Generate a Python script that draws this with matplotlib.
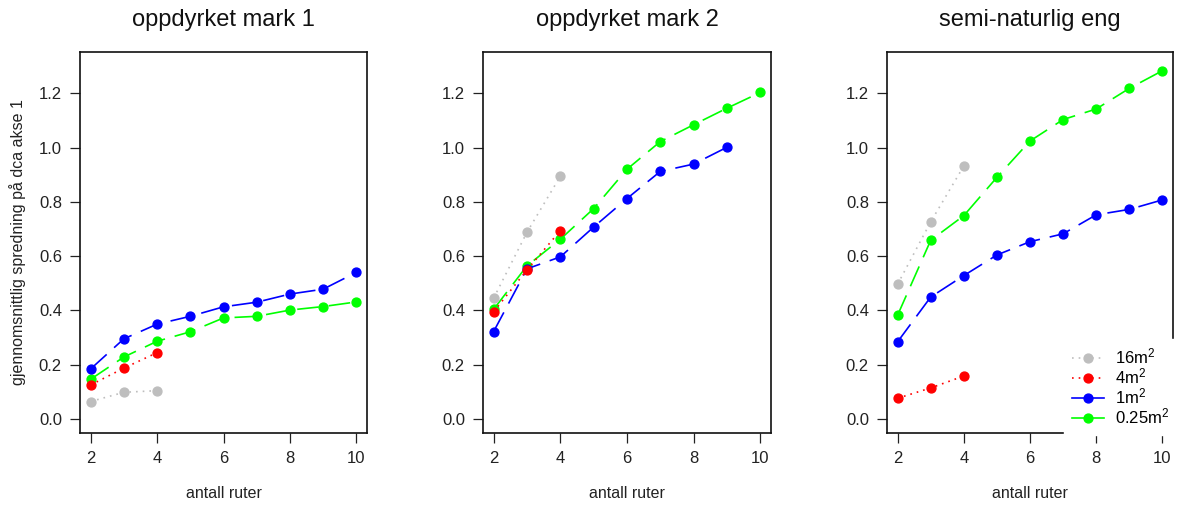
import matplotlib
matplotlib.use("Agg")
import matplotlib.pyplot as plt
from matplotlib.lines import Line2D

plt.rcParams['font.family'] = ['Liberation Sans', 'DejaVu Sans']
plt.rcParams['mathtext.default'] = 'regular'

# ---- data ----
titles = ['oppdyrket mark 1', 'oppdyrket mark 2', 'semi-naturlig eng']

x_short = [2, 3, 4]
x_long = [2, 3, 4, 5, 6, 7, 8, 9, 10]
x_nine = [2, 3, 4, 5, 6, 7, 8, 9]

gray_1 = [0.064, 0.098, 0.104]
red_1 = [0.125, 0.187, 0.244]
blue_1 = [0.184, 0.295, 0.349, 0.378, 0.413, 0.430, 0.460, 0.478, 0.540]
green_1 = [0.146, 0.228, 0.286, 0.321, 0.372, 0.378, 0.401, 0.414, 0.431]

gray_2 = [0.445, 0.688, 0.894]
red_2 = [0.395, 0.549, 0.694]
blue_2 = [0.322, 0.553, 0.597, 0.707, 0.812, 0.912, 0.939, 1.001]
green_2 = [0.404, 0.564, 0.662, 0.775, 0.920, 1.022, 1.084, 1.145, 1.203]

gray_3 = [0.496, 0.726, 0.932]
red_3 = [0.076, 0.114, 0.158]
blue_3 = [0.284, 0.449, 0.528, 0.604, 0.653, 0.682, 0.752, 0.772, 0.807]
green_3 = [0.382, 0.658, 0.749, 0.890, 1.024, 1.103, 1.142, 1.218, 1.283]

series_labels = ['16m$^2$', '4m$^2$', '1m$^2$', '0.25m$^2$']

panels = [
    (x_long, green_1, x_long, blue_1, red_1, gray_1),
    (x_long, green_2, x_nine, blue_2, red_2, gray_2),
    (x_long, green_3, x_long, blue_3, red_3, gray_3),
]

COLORS = {'gray': '#BEBEBE', 'red': '#FF0000', 'blue': '#0000FF', 'green': '#00FF00'}
DASH = (0, (13, 6))
DOT = (0, (1, 3))
LW = 1.2
MS = 6.4

fig = plt.figure(figsize=(11.8, 5.11), dpi=100, facecolor='white')
lefts = [80, 483, 887]
widths = [287, 288, 286]
H = 1180.0
V = 511.0

axes = []
for i, (xg, g, xb, b, r, gr) in enumerate(panels):
    ax = fig.add_axes([lefts[i] / H, (V - 433) / V, widths[i] / H, 381 / V])
    axes.append(ax)
    ax.plot(xg, g, color=COLORS['green'], linestyle=DASH, lw=LW,
            marker='o', ms=MS, mec=COLORS['green'])
    ax.plot(xb, b, color=COLORS['blue'], linestyle=DASH, lw=LW,
            marker='o', ms=MS, mec=COLORS['blue'])
    ax.plot(x_short, r, color=COLORS['red'], linestyle=DOT, lw=LW,
            marker='o', ms=MS, mec=COLORS['red'])
    ax.plot(x_short, gr, color=COLORS['gray'], linestyle=DOT, lw=LW,
            marker='o', ms=MS, mec=COLORS['gray'])

    ax.set_xlim(1.68, 10.32)
    ax.set_ylim(-0.052, 1.352)
    ax.set_xticks([2, 4, 6, 8, 10])
    ax.set_yticks([0.0, 0.2, 0.4, 0.6, 0.8, 1.0, 1.2])
    ax.set_yticklabels(['0.0', '0.2', '0.4', '0.6', '0.8', '1.0', '1.2'])
    ax.tick_params(labelsize=12, length=7, width=0.9, colors='#222222',
                   labelcolor='#222222', pad=6)
    for s in ax.spines.values():
        s.set_linewidth(1.2)
        s.set_color('#111111')

    ax.text(0.5, 1.084, titles[i], transform=ax.transAxes, ha='center',
            va='center', fontsize=17, color='#111111')
    ax.set_xlabel('antall ruter', fontsize=11.5, color='#222222')
    ax.xaxis.set_label_coords(0.5, -0.16)
    ax.xaxis.label.set_va('center')

axes[0].set_ylabel('gjennomsnittlig spredning på dca akse 1', fontsize=11.5,
                   color='#222222')
axes[0].yaxis.set_label_coords(-0.216, 0.5)
axes[0].yaxis.label.set_va('center')

handles = [
    Line2D([], [], color=COLORS['gray'], linestyle=DOT, lw=LW, marker='o', ms=MS, mec=COLORS['gray']),
    Line2D([], [], color=COLORS['red'], linestyle=DOT, lw=LW, marker='o', ms=MS, mec=COLORS['red']),
    Line2D([], [], color=COLORS['blue'], lw=LW, marker='o', ms=MS, mec=COLORS['blue']),
    Line2D([], [], color=COLORS['green'], lw=LW, marker='o', ms=MS, mec=COLORS['green']),
]
leg = axes[2].legend(handles, series_labels, loc='lower right',
                     bbox_to_anchor=(1.017, -0.005), fontsize=12,
                     frameon=True, facecolor='white', edgecolor='white',
                     framealpha=1, fancybox=False, labelspacing=0.0,
                     handlelength=1.9, handletextpad=0.7, borderpad=0.5,
                     borderaxespad=0)
leg.set_zorder(10)
leg.set_clip_on(False)

fig.savefig('out.png', dpi=100, facecolor='white')
